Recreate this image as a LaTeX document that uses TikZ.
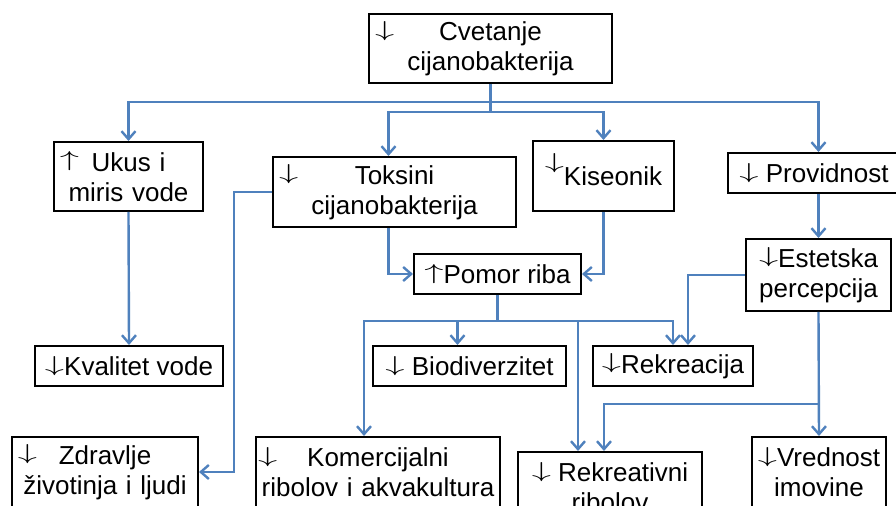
\documentclass[tikz,border=0pt]{standalone}
\usepackage{fontspec}
\usepackage{graphicx}
\setmainfont{Liberation Sans}
\usetikzlibrary{arrows.meta}
\definecolor{linkblue}{HTML}{4F81BD}
\newcommand{\dnarr}{\raisebox{0.17em}{\scalebox{1.6}[0.9]{$\downarrow$}}}
\newcommand{\uparr}{\raisebox{0.17em}{\scalebox{1.6}[0.9]{$\uparrow$}}}

\begin{document}
\begin{tikzpicture}[
  x=0.5pt, y=-0.5pt,
  font=\fontsize{13}{15}\selectfont,
  box/.style={draw=black, line width=1pt, align=center,
    inner xsep=3pt, inner ysep=0pt},
  plain/.style={draw=linkblue, line width=1.2pt},
  link/.style={plain, -{Straight Barb[length=4pt,width=7pt]}}
]
\clip (0,0) rectangle (896,506);
\fill[white] (0,0) rectangle (896,506);

% row 1
\node[box, text width=115.5pt, minimum height=34.5pt] (bloom) at (490.5,48.5)
  {\dnarr\hfill Cvetanje\hfill\phantom{\dnarr}\\ cijanobakterija};
\node[box, text width=68.5pt, minimum height=34.5pt] (taste) at (128.5,176.5)
  {\uparr\hfill Ukus i\hfill\phantom{\uparr}\\ miris vode};
\node[box, text width=115.5pt, minimum height=35pt] (toxins) at (394.5,192)
  {\dnarr\hfill Toksini\hfill\phantom{\dnarr}\\ cijanobakterija};
\node[box, minimum width=70.5pt, minimum height=35pt] (oxygen) at (603.5,176)
  {\smash{\raisebox{6pt}{\dnarr}}Kiseonik};
\node[box, minimum width=86pt, minimum height=20pt] (clarity) at (814,173)
  {\dnarr\ Providnost};

% row 2
\node[box, minimum width=83.5pt, minimum height=20pt] (fishkill) at (497.5,274)
  {\uparr Pomor riba};
\node[box, minimum width=72.5pt, minimum height=36pt] (aesthetic) at (818.5,275)
  {\dnarr Estetska\\ percepcija};

% row 3
\node[box, minimum width=94pt, minimum height=20pt] (quality) at (129,366)
  {\dnarr Kvalitet vode};
\node[box, minimum width=96.5pt, minimum height=20pt] (biodiv) at (469.5,366)
  {\dnarr\ Biodiverzitet};
\node[box, minimum width=80pt, minimum height=20pt] (recreation) at (673,366)
  {\dnarr Rekreacija};

% row 4
\node[box, text width=87pt, minimum height=35pt] (health) at (105,472)
  {\dnarr\hfill Zdravlje\hfill\phantom{\dnarr}\\ životinja i ljudi};
\node[box, text width=120pt, inner xsep=1pt, minimum height=35pt] (fishery) at (378,472)
  {\dnarr\hfill Komercijalni\hfill\phantom{\dnarr}\\ ribolov i akvakultura};
\node[box, minimum width=92pt, minimum height=35pt] (sportfish) at (610,487)
  {\dnarr\ Rekreativni\\ ribolov};
\node[box, minimum width=66pt, minimum height=35pt] (property) at (819,472)
  {\dnarr Vrednost\\ imovine};

\coordinate (rowA) at (0,102);
\coordinate (rowB) at (0,112);
\coordinate (rowC) at (0,321);
\coordinate (rowD) at (0,404);

\draw[plain] (bloom.south) -- (bloom.south |- rowB);
\draw[link] (bloom.south |- rowA) -| (taste.north);
\draw[link] (bloom.south |- rowA) -| (aesthetic.north |- clarity.north);
\draw[link] (bloom.south |- rowB) -| ([xshift=-3pt]toxins.north);
\draw[link] (bloom.south |- rowB) -| (oxygen.north);

\draw[link] ([xshift=-3pt]toxins.south) |- (fishkill.west);
\draw[link] (oxygen.south) |- (fishkill.east);
\draw[link] (toxins.west) -- ++(-38,0) |- (health.east);
\draw[link] (taste.south) -- (quality.north);
\draw[link] (aesthetic.north |- clarity.south) -- (aesthetic.north);
\draw[link] (aesthetic.west) -| ([xshift=7.5pt]recreation.north);

\draw[plain] (fishkill.south) -- (fishkill.south |- rowC);
\draw[link] (fishkill.south |- rowC) -| ([xshift=-7pt]fishery.north);
\draw[link] (fishkill.south |- rowC) -| ([xshift=-6pt]biodiv.north);
\draw[link] (fishkill.south |- rowC) -| (recreation.north);
\draw[link] (fishkill.south |- rowC) -| ([xshift=-16pt]sportfish.north);

\draw[link] (aesthetic.south) -- (property.north);
\draw[link] (aesthetic.south |- rowD) -| ([xshift=-3pt]sportfish.north);
\end{tikzpicture}
\end{document}
